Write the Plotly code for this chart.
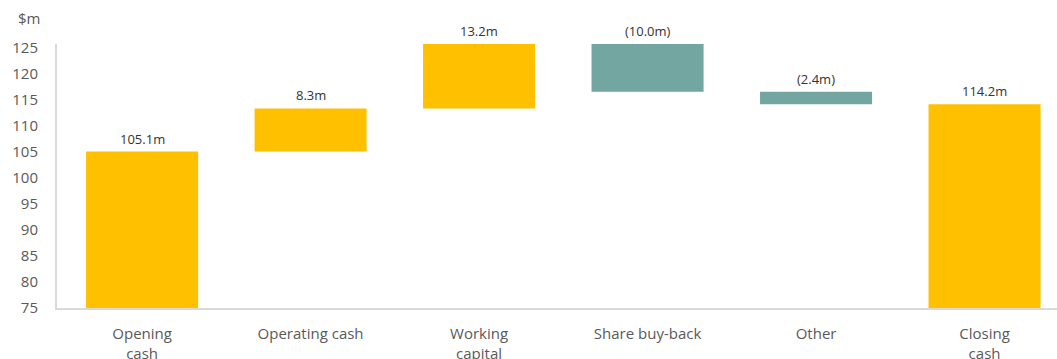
import plotly.graph_objects as go

categories = ["Opening<br>cash", "Operating cash", "Working<br>capital", "Share buy-back", "Other", "Closing<br>cash"]
measures = ["absolute", "relative", "relative", "relative", "relative", "total"]
values = [105.1, 8.3, 13.2, -10.0, -2.4, 114.2]
labels = ["105.1m", "8.3m", "13.2m", "(10.0m)", "(2.4m)", "114.2m"]
y_ticks = [75, 80, 85, 90, 95, 100, 105, 110, 115, 120, 125]

YELLOW = "#FFC000"
TEAL = "#74A6A1"
GRAY = "#595959"
FONT = "Open Sans"

# compute waterfall bases / tops from the values
bases, tops, colors = [], [], []
running = 0.0
for m, v in zip(measures, values):
    if m == "absolute":
        running = v
        bases.append(0.0)
        tops.append(v)
        colors.append(YELLOW)
    elif m == "total":
        bases.append(0.0)
        tops.append(running)
        colors.append(YELLOW)
    else:
        start = running
        running = running + v
        bases.append(start)
        tops.append(running)
        colors.append(YELLOW if v >= 0 else TEAL)

lows = [min(b, t) for b, t in zip(bases, tops)]
highs = [max(b, t) for b, t in zip(bases, tops)]
heights = [h - l for h, l in zip(highs, lows)]

fig = go.Figure()
fig.add_trace(go.Bar(
    x=categories, y=heights, base=lows,
    marker=dict(color=colors, line=dict(width=0)),
    width=0.665, hoverinfo="skip", showlegend=False,
))

Y_MAX = 125.8
annotations = []
for c, h, t in zip(categories, highs, labels):
    annotations.append(dict(
        x=c, y=min(h, Y_MAX), xref="x", yref="y", text=t, showarrow=False,
        yanchor="bottom", xanchor="center", yshift=2,
        font=dict(family=FONT, size=13, color="#333333"),
    ))
annotations.append(dict(
    text="$m", xref="paper", yref="paper", x=0, y=1,
    xanchor="right", yanchor="middle", xshift=-15, yshift=26,
    showarrow=False, font=dict(family=FONT, size=15, color=GRAY),
))

fig.update_layout(
    width=1057, height=359,
    margin=dict(l=57, r=0, t=44, b=51),
    paper_bgcolor="white", plot_bgcolor="white",
    font=dict(family=FONT, color=GRAY, size=15),
    xaxis=dict(
        range=[-0.505, 5.43], showgrid=False, zeroline=False,
        showline=True, linecolor="#d9d9d9", linewidth=2,
        ticks="", ticklabelstandoff=11, automargin=False,
        tickfont=dict(family=FONT, size=15, color=GRAY),
    ),
    yaxis=dict(
        range=[75, Y_MAX], tickvals=y_ticks, showgrid=False, zeroline=False,
        showline=True, linecolor="#d9d9d9", linewidth=2,
        ticks="", ticklabelstandoff=14, automargin=False,
        tickfont=dict(family=FONT, size=15, color=GRAY),
    ),
    annotations=annotations,
)

fig.write_html("out.html")
